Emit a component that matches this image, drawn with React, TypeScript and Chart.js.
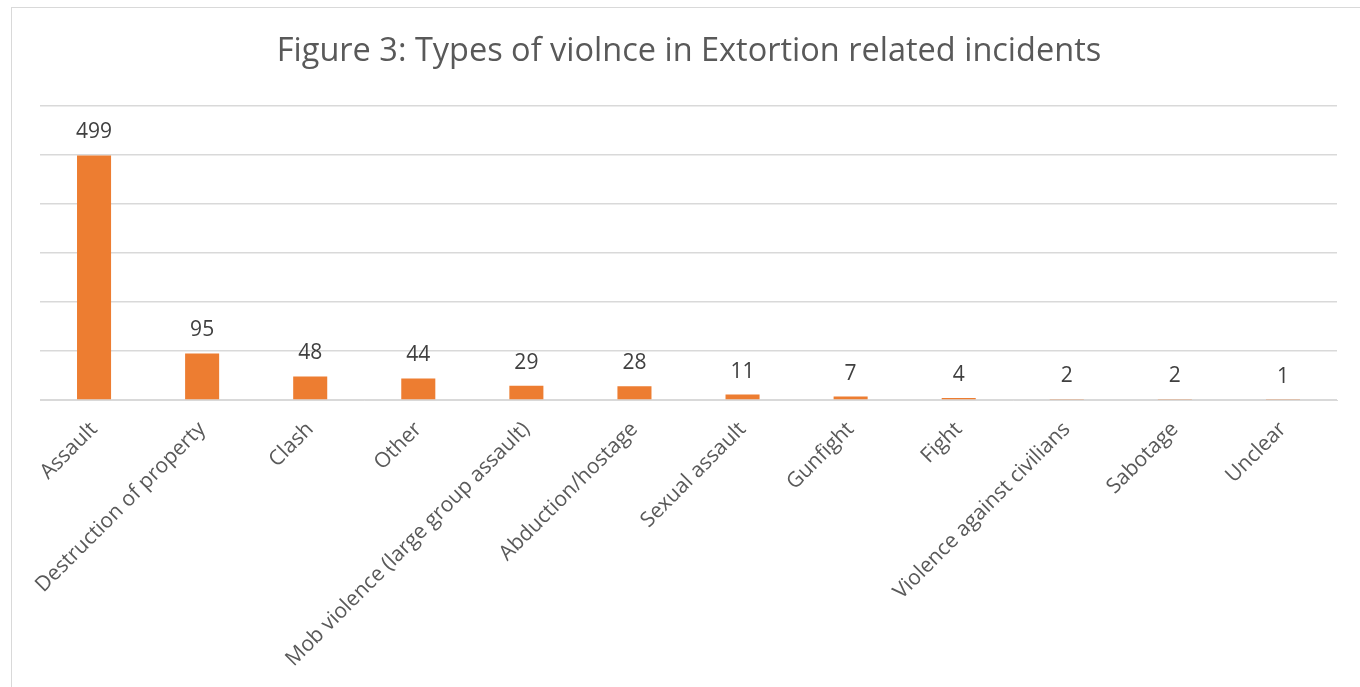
import React, { useEffect, useRef } from "react";
import { Chart, registerables } from "chart.js";

Chart.register(...registerables);

const categories = [
  "Assault",
  "Destruction of property",
  "Clash",
  "Other",
  "Mob violence (large group assault)",
  "Abduction/hostage",
  "Sexual assault",
  "Gunfight",
  "Fight",
  "Violence against civilians",
  "Sabotage",
  "Unclear",
];
const counts = [499, 95, 48, 44, 29, 28, 11, 7, 4, 2, 2, 1];
const titleText = "Figure 3: Types of violnce in Extortion related incidents";
const FONT = "'Open Sans', 'DejaVu Sans', sans-serif";

export default function App() {
  const ref = useRef<HTMLCanvasElement | null>(null);

  useEffect(() => {
    const canvas = ref.current;
    if (!canvas) return;
    const labelPlugin = {
      id: "valueLabels",
      afterDatasetsDraw(chart: any) {
        const ctx = chart.ctx;
        const meta = chart.getDatasetMeta(0);
        ctx.save();
        ctx.fillStyle = "#404040";
        ctx.font = `21px ${FONT}`;
        ctx.textAlign = "center";
        ctx.textBaseline = "alphabetic";
        meta.data.forEach((bar: any, i: number) => {
          ctx.fillText(String(counts[i]), bar.x, bar.y - 17);
        });
        ctx.restore();
      },
      afterDraw(chart: any) {
        const ctx = chart.ctx;
        ctx.save();
        ctx.fillStyle = "#595959";
        ctx.font = `32.5px ${FONT}`;
        ctx.textAlign = "center";
        ctx.textBaseline = "middle";
        ctx.fillText(titleText, 689, 52);
        ctx.restore();
      },
    };
    const chart = new Chart(canvas, {
      type: "bar",
      data: {
        labels: categories,
        datasets: [
          {
            data: counts,
            backgroundColor: "#ED7D31",
            categoryPercentage: 1,
            barPercentage: 0.315,
          },
        ],
      },
      options: {
        responsive: false,
        animation: false,
        layout: { padding: { left: 40, right: 23, top: 106, bottom: 0 } },
        plugins: {
          legend: { display: false },
          title: { display: false },
          tooltip: { enabled: false },
        },
        scales: {
          x: {
            grid: { display: false },
            border: { display: true, color: "#D9D9D9", width: 1 },
            ticks: {
              color: "#595959",
              font: { family: FONT, size: 21 },
              minRotation: 45,
              maxRotation: 45,
              autoSkip: false,
              padding: 9,
            },
            afterFit: (s: any) => {
              s.height = 287;
            },
          },
          y: {
            min: 0,
            max: 600,
            ticks: { display: false, stepSize: 100 },
            grid: { color: "#D9D9D9", lineWidth: 1.5, drawTicks: false },
            border: { display: false },
            afterFit: (s: any) => {
              s.width = 0;
            },
          },
        },
      },
      plugins: [labelPlugin],
    });
    return () => chart.destroy();
  }, []);

  return (
    <div
      style={{
        position: "absolute",
        left: 0,
        top: 0,
        width: 1360,
        height: 687,
        overflow: "hidden",
        background: "#fff",
      }}
    >
      <div
        style={{
          position: "absolute",
          left: 11,
          top: 7,
          width: 1400,
          height: 720,
          border: "1.5px solid #D9D9D9",
          boxSizing: "border-box",
        }}
      />
      <canvas
        ref={ref}
        width={1360}
        height={687}
        style={{ position: "absolute", left: 0, top: 0 }}
      />
    </div>
  );
}
